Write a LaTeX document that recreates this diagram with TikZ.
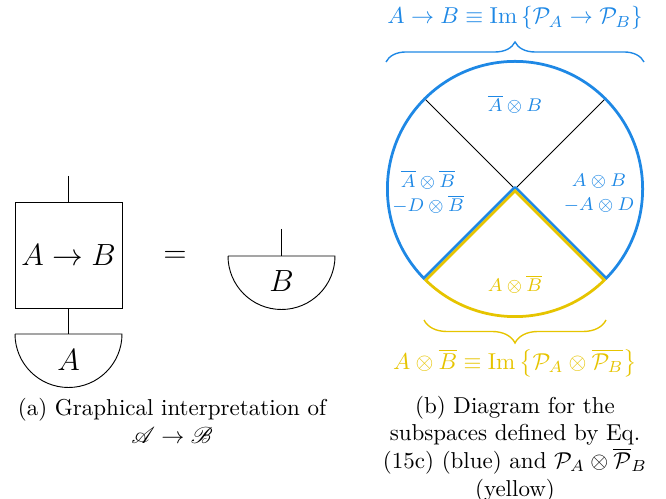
\documentclass[tikz,border=0pt]{standalone}
\usepackage{amsmath}
\usepackage{amssymb}
\usepackage{mathrsfs}
\usepackage{graphicx}
\usepackage{tikz}
\usetikzlibrary{calc, decorations.pathreplacing}
\definecolor{subblue}{RGB}{30,136,229}
\definecolor{subyellow}{RGB}{230,196,0}
\newcommand{\diagtext}[1]{\scalebox{1.11}{\large #1}}
\tikzstyle{channel} = [rectangle, minimum width=46.5pt, minimum height=46.1pt, inner sep=0pt, draw=black, fill=white]
\tikzstyle{caption} = [align=center, text=black]
\tikzstyle{sublabel} = [font=\footnotesize, align=center]
\tikzstyle{region} = [line width=2.4pt, line join=round]
\tikzstyle{bracket} = [semithick, decorate]

\begin{document}
\begin{tikzpicture}[x=0.4348pt, y=0.4348pt]
    \useasboundingbox (0,0) rectangle (666,499);

    % (a) channel followed by measurement
    \node (chan) [channel] at (68.5,244) {\diagtext{$A\to B$}};
    \coordinate (topA) at (68.5,323);
    \coordinate (measA) at (68.5,165);
    \draw (topA) -- (chan.north);
    \draw (chan.south) -- (measA);
    \draw (measA) ++(-53.5,0) -- ++(107,0) arc[start angle=0, end angle=-180, radius=53.5];
    \node (labA) at (68.5,139) {\diagtext{$A$}};

    \node (eq) at (175,242) {\diagtext{$=$}};

    \coordinate (topB) at (281.5,270);
    \coordinate (measB) at (281.5,243);
    \draw (topB) -- (measB);
    \draw (measB) ++(-53.5,0) -- ++(107,0) arc[start angle=0, end angle=-180, radius=53.5];
    \node (labB) at (281.5,218) {\diagtext{$B$}};

    \node (capA) [caption] at (172,78) {(a) Graphical interpretation of\\ $\mathscr{A}\to\mathscr{B}$};

    % (b) subspace diagram
    \coordinate (O) at (515,310);
    \coordinate (ul) at ($(O)+(135:129)$);
    \coordinate (ur) at ($(O)+(45:129)$);
    \coordinate (ll) at ($(O)+(225:129)$);
    \coordinate (lr) at ($(O)+(315:129)$);

    \draw (O) -- (ul);
    \draw (O) -- (ur);

    \begin{scope}
        \clip (O) -- (ll) arc[start angle=225, end angle=-45, radius=129] -- cycle;
        \draw [region, subblue] (O) -- (ll) arc[start angle=225, end angle=-45, radius=129] -- cycle;
    \end{scope}
    \begin{scope}
        \clip (O) -- (ll) arc[start angle=225, end angle=315, radius=129] -- cycle;
        \draw [region, subyellow] (O) -- (ll) arc[start angle=225, end angle=315, radius=129] -- cycle;
    \end{scope}

    \node (nAB) [sublabel, text=subblue] at (515,395) {$\overline{A}\otimes B$};
    \node (left) [sublabel, text=subblue] at (428,307) {$\overline{A}\otimes\overline{B}$\\[1pt] $-D\otimes\overline{B}$};
    \node (right) [sublabel, text=subblue] at (599,306) {$A\otimes B$\\[1pt] $-A\otimes D$};
    \node (AnB) [sublabel, text=subyellow] at (515,215) {$A\otimes\overline{B}$};

    \coordinate (bl) at (386,437);
    \coordinate (br) at (644,437);
    \draw [bracket, subblue, decoration={brace, amplitude=8.7pt}] (bl) -- (br);
    \node (imblue) [text=subblue] at (515,481) {$A\to B\equiv\operatorname{Im}\left\{\mathcal{P}_A\to\mathcal{P}_B\right\}$};

    \coordinate (yl) at (424,179);
    \coordinate (yr) at (606,179);
    \draw [bracket, subyellow, decoration={brace, amplitude=10pt}] (yr) -- (yl);
    \node (imyellow) [text=subyellow] at (515,136) {$A\otimes\overline{B}\equiv\operatorname{Im}\left\{\mathcal{P}_A\otimes\overline{\mathcal{P}_B}\right\}$};

    \node (capB) [caption, inner sep=1pt] at (515,50) {(b) Diagram for the\\ subspaces defined by Eq.\\ (15c) (blue) and $\mathcal{P}_A\otimes\overline{\mathcal{P}}_B$\\ (yellow)};
\end{tikzpicture}
\end{document}
